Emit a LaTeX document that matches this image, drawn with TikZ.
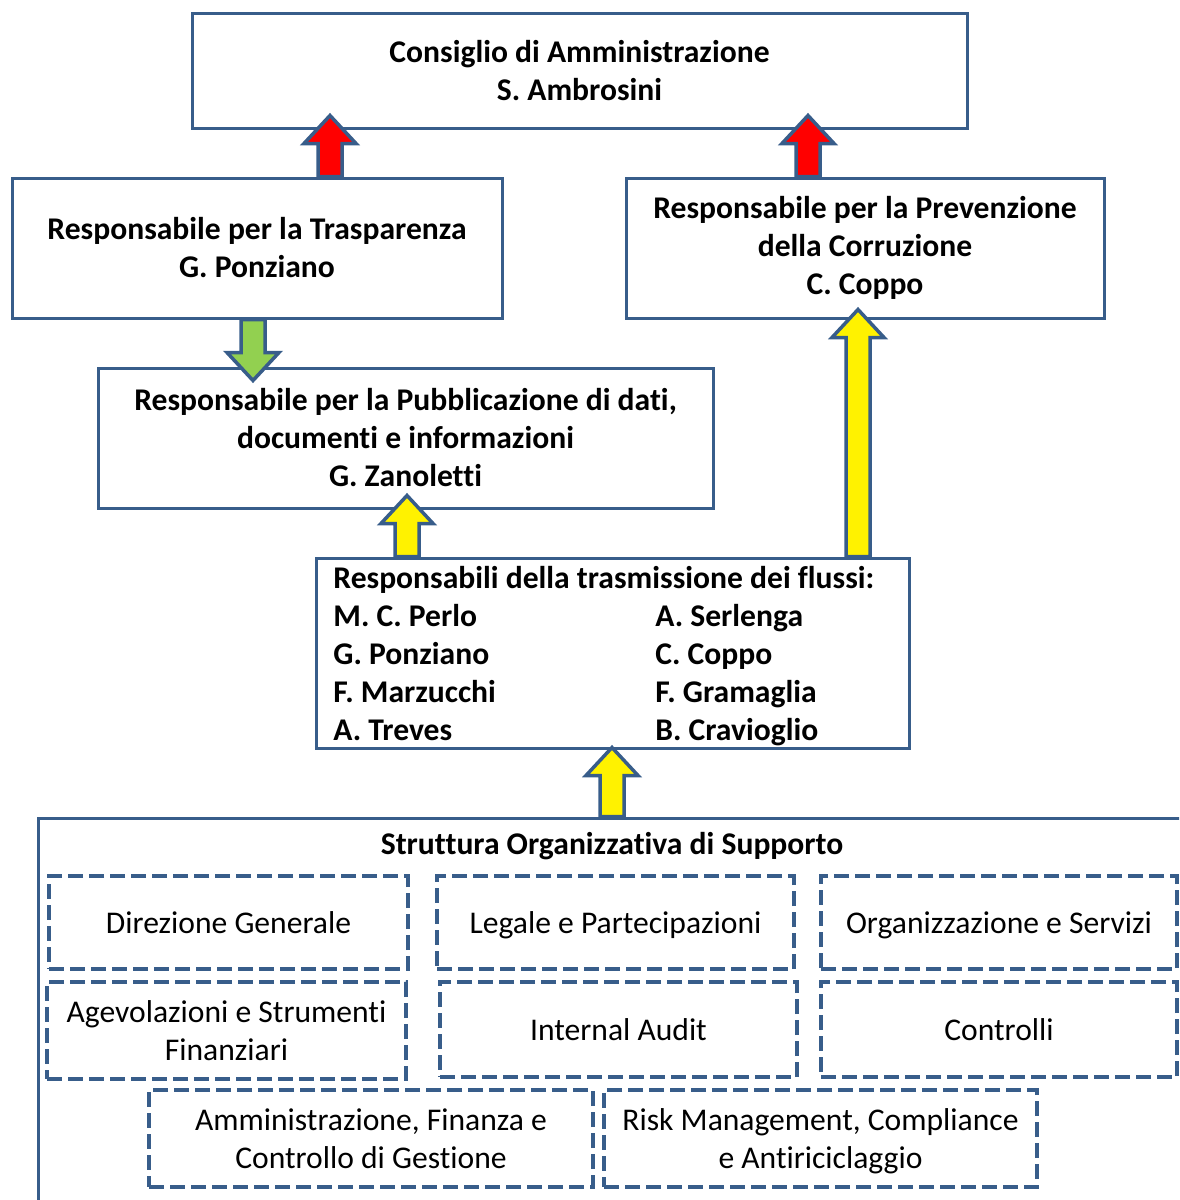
\documentclass[tikz,border=0pt]{standalone}
\usepackage{fontspec}
\setmainfont{Carlito}[Ligatures=NoCommon]
\usepackage{xcolor}
\usetikzlibrary{calc}

\definecolor{boxblue}{HTML}{385D8A}
\definecolor{arrgreen}{HTML}{92D050}

\tikzset{
  box/.style={draw=boxblue, line width=1.5pt, fill=white, align=center, inner sep=2pt,
    font=\bfseries\fontsize{15.8}{19}\selectfont},
  unit/.style={draw=boxblue, line width=1.8pt, dash pattern=on 7.5pt off 3pt, align=center,
    inner sep=2pt, text depth=0pt, font=\fontsize{15.8}{19}\selectfont},
  flowarr/.style={draw=boxblue, line width=1.75pt, line join=miter},
}

% block arrow: fill colour, start, tip
\newcommand{\flowarrow}[3]{%
  \draw[flowarr, fill=#1] let \p1=(#2), \p2=(#3), \p3=($(#3)!14pt!(#2)$) in
    (\x1-6pt,\y1) -- (\x1-6pt,\y3) -- (\x1-13pt,\y3) -- (\x2,\y2)
    -- (\x1+13pt,\y3) -- (\x1+6pt,\y3) -- (\x1+6pt,\y1) -- cycle;}

\begin{document}
\begin{tikzpicture}[x=0.5pt, y=-0.5pt]
    \useasboundingbox (0,0) rectangle (1179,1200);
    \clip (0,0) rectangle (1179,1200);

    % --- Upper boxes ---
    \node[box, minimum width=387.5pt, minimum height=57.5pt] (cda) at (579.5,70.5)
      {Consiglio di Amministrazione\\S. Ambrosini};
    \node[box, minimum width=245pt, minimum height=70pt] (trasp) at (257,248)
      {Responsabile per la Trasparenza\\G. Ponziano};
    \node[box, minimum width=239pt, minimum height=70pt] (prev) at (865,248)
      {Responsabile per la Prevenzione\\della Corruzione\\C. Coppo};
    \node[box, minimum width=307.5pt, minimum height=70pt] (pubb) at (405.5,438)
      {Responsabile per la Pubblicazione di dati,\\documenti e informazioni\\G. Zanoletti};

    % --- Flows box ---
    \node[box, minimum width=296.5pt, minimum height=95pt] (flussi) at (612.5,653) {};
    \node[anchor=north west, inner sep=0pt, font=\bfseries\fontsize{15.8}{19}\selectfont]
      (flussilist) at (333,561) {%
      \begin{tabular}{@{}p{161pt}@{}l@{}}
        \multicolumn{2}{@{}l@{}}{Responsabili della trasmissione dei flussi:}\\
        M. C. Perlo & A. Serlenga\\
        G. Ponziano & C. Coppo\\
        F. Marzucchi & F. Gramaglia\\
        A. Treves & B. Cravioglio
      \end{tabular}};

    % --- Support structure ---
    \node[draw=boxblue, line width=1.5pt, minimum width=596pt, minimum height=221pt]
      (supporto) at (634,1039) {};
    \node[font=\bfseries\fontsize{15.8}{19}\selectfont] (suptitle) at (612,846)
      {Struttura Organizzativa di Supporto};

    \node[unit, minimum width=179.5pt, minimum height=46.5pt] (dg) at (228.5,922.5)
      {Direzione Generale};
    \node[unit, minimum width=178.5pt, minimum height=46.5pt] (leg) at (615.5,922.5)
      {Legale e Partecipazioni};
    \node[unit, minimum width=178pt, minimum height=46.5pt] (org) at (999,922.5)
      {Organizzazione e Servizi};
    \node[unit, minimum width=179.5pt, minimum height=48.5pt] (agev) at (226.5,1030.5)
      {Agevolazioni e Strumenti\\Finanziari};
    \node[unit, minimum width=178.5pt, minimum height=47.5pt] (audit) at (618.5,1029.5)
      {Internal Audit};
    \node[unit, minimum width=178pt, minimum height=47.5pt] (ctrl) at (999,1029.5)
      {Controlli};
    \node[unit, minimum width=222pt, minimum height=48.5pt] (afc) at (371,1138.5)
      {Amministrazione, Finanza e\\Controllo di Gestione};
    \node[unit, minimum width=216.5pt, minimum height=48.5pt] (risk) at (820.5,1138.5)
      {Risk Management, Compliance\\e Antiriciclaggio};

    % --- Arrows ---
    \flowarrow{red}{trasp.north -| 330,0}{$(cda.south -| 330,0)+(0,-14)$}
    \flowarrow{red}{prev.north -| 808,0}{$(cda.south -| 808,0)+(0,-14)$}
    \flowarrow{arrgreen}{trasp.south -| 253,0}{$(pubb.north -| 253,0)+(0,14)$}
    \flowarrow{yellow}{flussi.north -| 407,0}{$(pubb.south -| 407,0)+(0,-14)$}
    \flowarrow{yellow}{flussi.north -| 858,0}{$(prev.south -| 858,0)+(0,-10)$}
    \flowarrow{yellow}{supporto.north -| 612,0}{$(flussi.south -| 612,0)+(0,-2)$}
\end{tikzpicture}
\end{document}
